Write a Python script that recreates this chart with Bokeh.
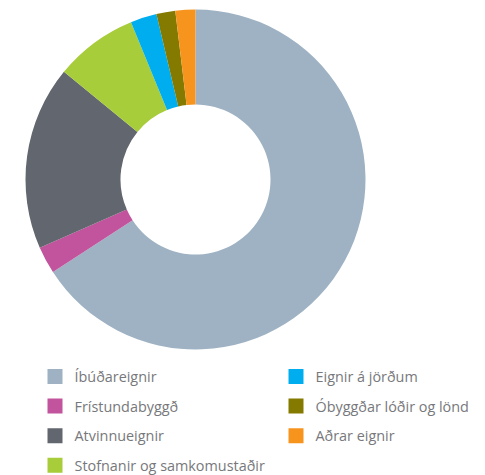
import numpy as np
from bokeh.plotting import figure
from bokeh.models import Range1d, ColumnDataSource
from bokeh.core.properties import value
from bokeh.embed import file_html
from bokeh.resources import INLINE

categories = ["Íbúðareignir", "Frístundabyggð", "Atvinnueignir",
              "Stofnanir og samkomustaðir", "Eignir á jörðum",
              "Óbyggðar lóðir og lönd", "Aðrar eignir"]
shares = [65.9, 2.6, 17.5, 7.9, 2.5, 1.8, 1.9]
colors = ["#9eb2c3", "#c1549c", "#62666e", "#a8cd3a", "#00aeef", "#857a00", "#f7941d"]

W, H = 485, 475
p = figure(width=W, height=H, output_backend="svg", toolbar_location=None,
           x_range=Range1d(0, W), y_range=Range1d(0, H),
           min_border=0)
p.axis.visible = False
p.grid.visible = False
p.outline_line_color = None

vals = np.array(shares) / sum(shares)
cum = np.concatenate([[0], np.cumsum(vals)])
start = np.pi / 2 - cum[:-1] * 2 * np.pi
end = np.pi / 2 - cum[1:] * 2 * np.pi
cx, cy = 195, H - 179
src = ColumnDataSource(dict(start=start, end=end, color=colors))
p.annular_wedge(x=cx, y=cy, inner_radius=75, outer_radius=170,
                start_angle="start", end_angle="end", direction="clock",
                color="color", line_color=None, source=src)

# legend
col_of = [0, 0, 0, 0, 1, 1, 1]
row_of = [0, 1, 2, 3, 0, 1, 2]
lx = [47 + 241 * c for c in col_of]
ly = [H - (376 + 29.6 * r) for r in row_of]
lsrc = ColumnDataSource(dict(x=[x + 7.5 for x in lx], tx=[x + 27 for x in lx], y=ly,
                             color=colors, label=categories))
p.rect(x="x", y="y", width=15, height=15, color="color", line_color=None, source=lsrc)
p.text(x="tx", y="y", text="label", text_font=value("Open Sans"), text_font_size="14.4px",
       text_color="#77787b", text_baseline="middle", source=lsrc)

open("out.html", "w").write(file_html(p, INLINE))
